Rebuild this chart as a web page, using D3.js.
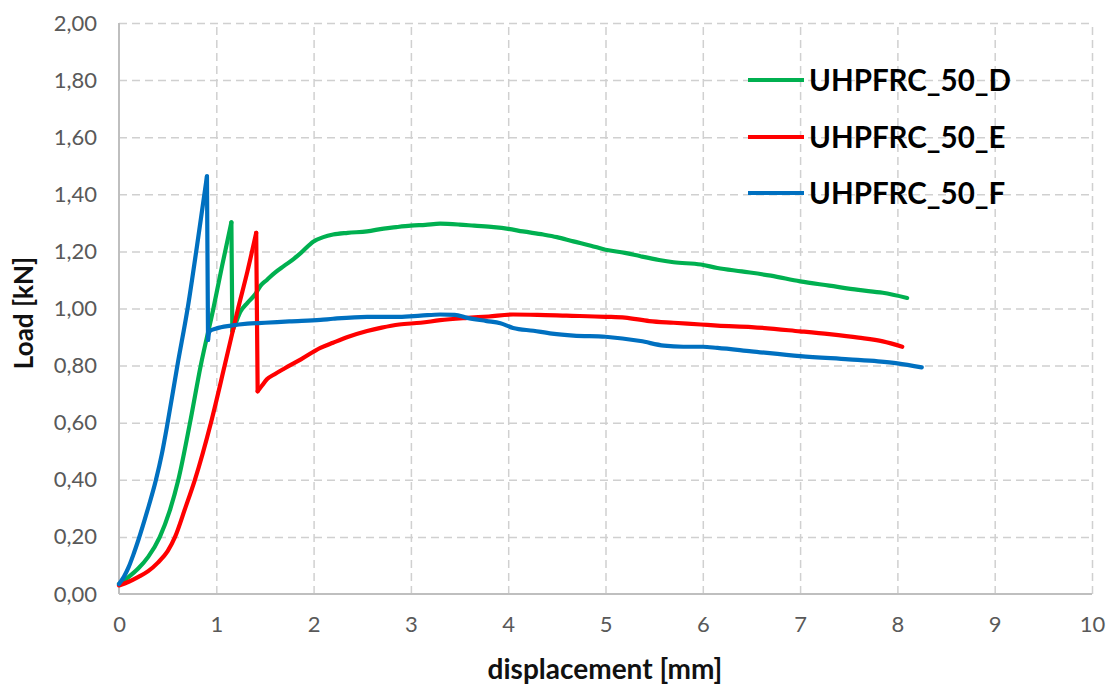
<!DOCTYPE html>
<html>
<head>
<meta charset="utf-8">
<script src="https://cdn.jsdelivr.net/npm/d3@7"></script>
<style>
  html, body { margin: 0; padding: 0; background: #ffffff; }
  svg { display: block; }
</style>
</head>
<body>
<svg id="chart" width="1114" height="689"></svg>
<script>
// ---------- data ----------
const seriesNames = ["UHPFRC_50_D", "UHPFRC_50_E", "UHPFRC_50_F"];
const seriesColors = ["#00B050", "#FF0000", "#0070C0"];

const dX = [0, 0.1, 0.2, 0.3, 0.42, 0.52, 0.61, 0.73, 0.84, 0.97, 1.06, 1.155, 1.165, 1.2, 1.25, 1.32, 1.4, 1.455, 1.52, 1.6, 1.7, 1.8, 1.87, 2.0, 2.1, 2.2, 2.35, 2.55, 2.72, 2.85, 3.0, 3.15, 3.3, 3.5, 3.65, 3.85, 4.0, 4.15, 4.36, 4.5, 4.67, 4.85, 5.0, 5.2, 5.36, 5.55, 5.7, 5.98, 6.15, 6.4, 6.7, 7.0, 7.3, 7.6, 7.85, 8.1];
const dY = [0.035, 0.06, 0.09, 0.13, 0.20, 0.29, 0.40, 0.60, 0.80, 1.00, 1.15, 1.302, 0.92, 0.95, 0.99, 1.02, 1.05, 1.08, 1.10, 1.125, 1.15, 1.175, 1.195, 1.235, 1.25, 1.259, 1.265, 1.270, 1.28, 1.285, 1.29, 1.293, 1.297, 1.294, 1.29, 1.285, 1.279, 1.27, 1.259, 1.25, 1.235, 1.22, 1.206, 1.195, 1.183, 1.17, 1.162, 1.154, 1.142, 1.13, 1.115, 1.095, 1.08, 1.065, 1.055, 1.037];

const eX = [0, 0.1, 0.2, 0.3, 0.4, 0.5, 0.576, 0.68, 0.78, 0.945, 1.086, 1.224, 1.32, 1.41, 1.425, 1.47, 1.52, 1.6, 1.7, 1.87, 2.07, 2.2, 2.35, 2.55, 2.7, 2.88, 3.1, 3.3, 3.58, 3.8, 4.05, 4.3, 4.6, 5.0, 5.2, 5.45, 5.7, 5.98, 6.15, 6.5, 7.0, 7.3, 7.6, 7.85, 8.05];
const eY = [0.03, 0.043, 0.06, 0.08, 0.11, 0.15, 0.20, 0.30, 0.40, 0.60, 0.80, 1.00, 1.13, 1.265, 0.71, 0.73, 0.752, 0.77, 0.79, 0.822, 0.862, 0.88, 0.90, 0.921, 0.933, 0.944, 0.95, 0.959, 0.967, 0.972, 0.979, 0.978, 0.975, 0.971, 0.968, 0.956, 0.95, 0.944, 0.94, 0.935, 0.92, 0.91, 0.898, 0.885, 0.866];

const fX = [0, 0.05, 0.1, 0.15, 0.2, 0.29, 0.38, 0.44, 0.50, 0.60, 0.71, 0.80, 0.904, 0.915, 0.93, 1.0, 1.15, 1.32, 1.5, 1.75, 2.07, 2.2, 2.55, 2.88, 3.1, 3.3, 3.45, 3.58, 3.78, 3.92, 4.05, 4.26, 4.45, 4.67, 5.0, 5.36, 5.6, 5.8, 6.0, 6.15, 6.5, 7.0, 7.5, 7.8, 8.0, 8.25];
const fY = [0.035, 0.06, 0.095, 0.14, 0.19, 0.29, 0.40, 0.49, 0.60, 0.80, 1.01, 1.215, 1.463, 0.89, 0.92, 0.93, 0.94, 0.947, 0.95, 0.955, 0.96, 0.964, 0.971, 0.971, 0.975, 0.979, 0.978, 0.967, 0.956, 0.948, 0.932, 0.922, 0.912, 0.905, 0.901, 0.886, 0.87, 0.866, 0.866, 0.862, 0.85, 0.833, 0.822, 0.815, 0.808, 0.794];

const xTickValues = [0, 1, 2, 3, 4, 5, 6, 7, 8, 9, 10];
const xTickLabels = ["0", "1", "2", "3", "4", "5", "6", "7", "8", "9", "10"];
const yTickValues = [0, 0.2, 0.4, 0.6, 0.8, 1.0, 1.2, 1.4, 1.6, 1.8, 2.0];
const yTickLabels = ["0,00", "0,20", "0,40", "0,60", "0,80", "1,00", "1,20", "1,40", "1,60", "1,80", "2,00"];

const xTitle = "displacement [mm]";
const yTitle = "Load [kN]";

// ---------- layout ----------
const svg = d3.select("#chart");
const pLeft = 119, pRight = 1092, pTop = 23, pBottom = 594;
const x = d3.scaleLinear().domain([0, 10]).range([pLeft, pRight]);
const y = d3.scaleLinear().domain([0, 2]).range([pBottom, pTop]);

const font = "Lato, 'Open Sans', sans-serif";
const gridColor = "#d0d0d0";

// gridlines
const gy = svg.append("g").attr("transform", `translate(${pLeft},0)`)
  .call(d3.axisLeft(y).tickValues(yTickValues.slice(1)).tickSize(-(pRight - pLeft)).tickFormat(""));
gy.select(".domain").remove();
gy.selectAll("line").attr("stroke", gridColor).attr("stroke-width", 1.5).attr("stroke-dasharray", "8,5");

const gx = svg.append("g").attr("transform", `translate(0,${pBottom})`)
  .call(d3.axisBottom(x).tickValues(xTickValues.slice(1)).tickSize(-(pBottom - pTop)).tickFormat(""));
gx.select(".domain").remove();
gx.selectAll("line").attr("stroke", gridColor).attr("stroke-width", 1.5).attr("stroke-dasharray", "8,5");

// axis lines
svg.append("line").attr("x1", pLeft).attr("x2", pLeft).attr("y1", pTop).attr("y2", pBottom)
  .attr("stroke", "#bfbfbf").attr("stroke-width", 2);
svg.append("line").attr("x1", pLeft).attr("x2", pRight).attr("y1", pBottom).attr("y2", pBottom)
  .attr("stroke", "#bfbfbf").attr("stroke-width", 2);

// tick labels via axes
const ay = svg.append("g").attr("transform", `translate(${pLeft},0)`)
  .call(d3.axisLeft(y).tickValues(yTickValues).tickSize(0).tickPadding(22)
    .tickFormat((d, i) => yTickLabels[i]));
ay.select(".domain").remove();
ay.selectAll("text").attr("font-family", font).attr("font-size", 22).attr("fill", "#595959");

const ax = svg.append("g").attr("transform", `translate(0,${pBottom})`)
  .call(d3.axisBottom(x).tickValues(xTickValues).tickSize(0).tickPadding(22)
    .tickFormat((d, i) => xTickLabels[i]));
ax.select(".domain").remove();
ax.selectAll("text").attr("font-family", font).attr("font-size", 22).attr("fill", "#595959");

// axis titles
svg.append("text").attr("x", 605).attr("y", 679).attr("text-anchor", "middle")
  .attr("font-family", font).attr("font-weight", "bold").attr("font-size", 28).attr("fill", "#111")
  .text(xTitle);
svg.append("text").attr("transform", "translate(33,313) rotate(-90)").attr("text-anchor", "middle")
  .attr("font-family", font).attr("font-weight", "bold").attr("font-size", 26).attr("fill", "#111")
  .text(yTitle);

// series: split each curve at the sudden drop so the peak stays sharp
const series = [
  { name: seriesNames[0], color: seriesColors[0], xs: dX, ys: dY },
  { name: seriesNames[1], color: seriesColors[1], xs: eX, ys: eY },
  { name: seriesNames[2], color: seriesColors[2], xs: fX, ys: fY }
];
const smooth = d3.line().x(d => x(d[0])).y(d => y(d[1])).curve(d3.curveMonotoneX);
const straight = d3.line().x(d => x(d[0])).y(d => y(d[1]));
series.forEach(s => {
  const pts = s.xs.map((v, i) => [v, s.ys[i]]);
  let k = 1;
  while (k < pts.length && !(pts[k][1] < pts[k - 1][1] - 0.2)) k++;
  const g = svg.append("g").attr("fill", "none").attr("stroke", s.color).attr("stroke-width", 4.2)
    .attr("stroke-linejoin", "round").attr("stroke-linecap", "round");
  g.append("path").attr("d", smooth(pts.slice(0, k)));
  g.append("path").attr("d", straight(pts.slice(k - 1, k + 1)));
  g.append("path").attr("d", smooth(pts.slice(k)));
});

// legend
const legY = [80, 137, 193];
series.forEach((s, i) => {
  svg.append("line").attr("x1", 748).attr("x2", 804).attr("y1", legY[i]).attr("y2", legY[i])
    .attr("stroke", s.color).attr("stroke-width", 4);
  svg.append("text").attr("x", 809).attr("y", legY[i] + 11)
    .attr("font-family", font).attr("font-weight", "bold").attr("font-size", 29.5).attr("fill", "#000")
    .text(s.name);
});
</script>
</body>
</html>
